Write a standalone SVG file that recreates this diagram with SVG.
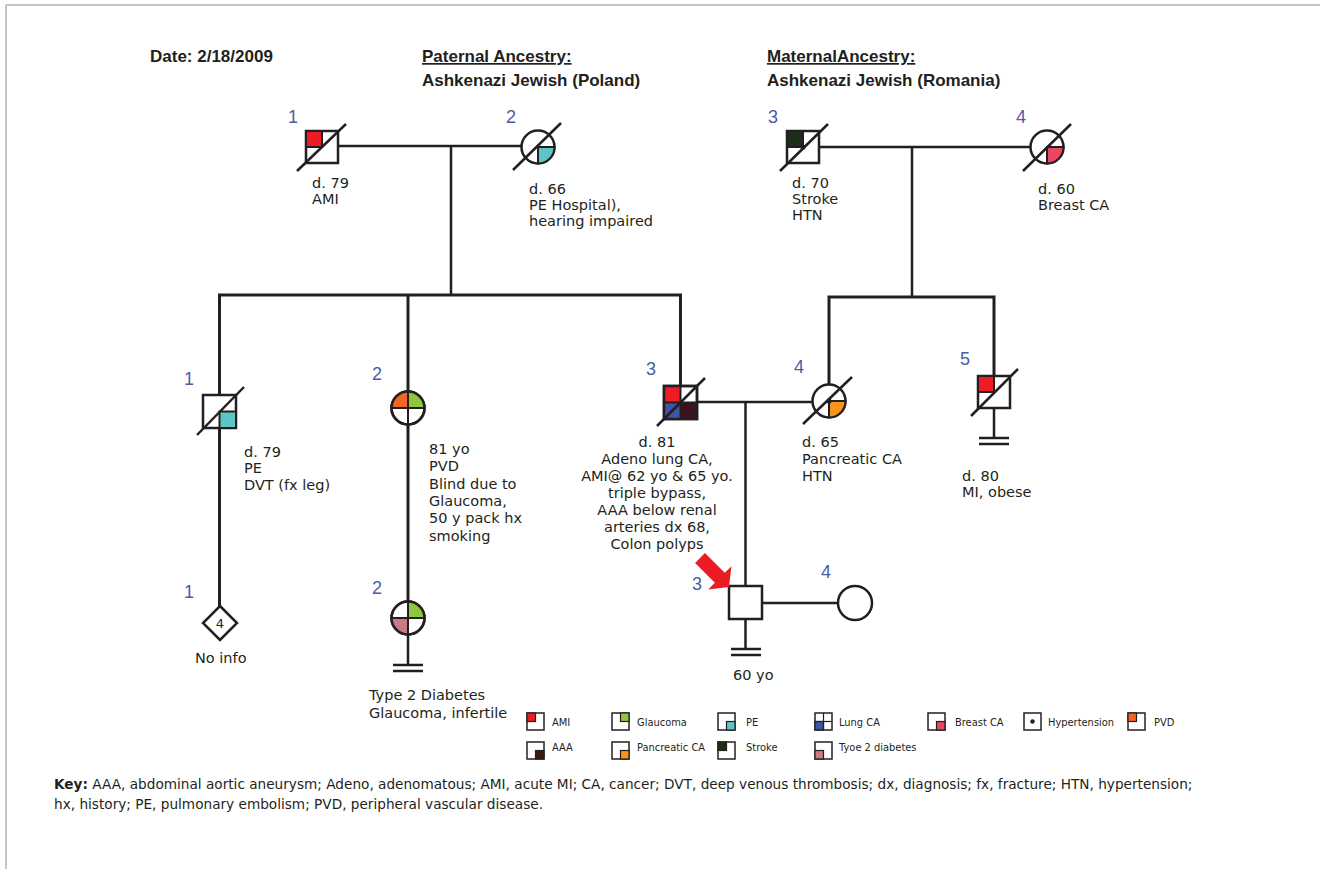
<svg xmlns="http://www.w3.org/2000/svg" width="1320" height="869" viewBox="0 0 1320 869">
<style>
text{font-family:"DejaVu Sans","Liberation Sans",sans-serif;fill:#231f20}
.t{font-size:14.5px}
.h{font-family:"Liberation Sans","DejaVu Sans",sans-serif;font-size:17px;font-weight:bold}
.lb{font-family:"Liberation Sans",sans-serif;font-size:18px;fill:#4d5aa6;text-anchor:middle}
.lg{font-size:9.9px}
.k{font-size:13.65px}
.ln{stroke:#231f20;stroke-width:2.5;fill:none}
.sib{stroke:#231f20;stroke-width:3;fill:none}
.sym{stroke:#231f20;stroke-width:2.5;fill:#fff}
.q{stroke:#231f20;stroke-width:2}
.sl{stroke:#231f20;stroke-width:2.5}
.li{stroke:#231f20;stroke-width:1.5;fill:#fff}
.lq{stroke:#231f20;stroke-width:1.2}
</style>
<rect x="0" y="0" width="1320" height="869" fill="#fff"/>
<g id="frame" stroke="#b3b3b3" stroke-width="1.5">
<line x1="6" y1="5" x2="1320" y2="5"/>
<line x1="6" y1="5" x2="6" y2="869"/>
</g>
<g id="header">
<text class="h" x="150" y="62">Date: 2/18/2009</text>
<text class="h" x="422" y="62" text-decoration="underline">Paternal Ancestry:</text>
<text class="h" x="422" y="86">Ashkenazi Jewish (Poland)</text>
<text class="h" x="767" y="62" text-decoration="underline">MaternalAncestry:</text>
<text class="h" x="767" y="86">Ashkenazi Jewish (Romania)</text>
</g>
<g id="connectors">
<line class="ln" x1="338" y1="146" x2="521.5" y2="146"/>
<line class="ln" x1="451" y1="146" x2="451" y2="295"/>
<line class="ln" x1="819" y1="147" x2="1030.5" y2="147"/>
<line class="ln" x1="912" y1="147" x2="912" y2="297"/>
<polyline class="sib" points="219.5,395 219.5,295 680.5,295 680.5,386"/>
<line class="sib" x1="408" y1="295" x2="408" y2="391.5"/>
<polyline class="sib" points="829,384.5 829,297 994,297 994,376"/>
<line class="sib" x1="219.5" y1="428" x2="219.5" y2="606"/>
<line class="sib" x1="408" y1="424.5" x2="408" y2="601.5"/>
<line class="ln" x1="697" y1="402" x2="812.5" y2="402"/>
<line class="ln" x1="745.5" y1="402" x2="745.5" y2="586"/>
<line class="ln" x1="762" y1="603" x2="838" y2="603"/>
<line class="ln" x1="994" y1="408" x2="994" y2="438"/>
<line class="ln" x1="979" y1="438" x2="1009" y2="438"/>
<line class="ln" x1="979" y1="444" x2="1009" y2="444"/>
<line class="ln" x1="745.5" y1="619" x2="745.5" y2="649"/>
<line class="ln" x1="731" y1="649" x2="761" y2="649"/>
<line class="ln" x1="731" y1="655" x2="761" y2="655"/>
<line class="ln" x1="408" y1="634.5" x2="408" y2="665"/>
<line class="ln" x1="393" y1="665" x2="423" y2="665"/>
<line class="ln" x1="393" y1="671" x2="423" y2="671"/>
</g>
<g id="I-1">
<rect class="sym" x="306" y="131" width="32" height="32"/>
<rect class="q" x="306" y="131" width="16" height="16" fill="#ed1c24"/>
<line class="sl" x1="297" y1="171" x2="346" y2="124"/>
<text class="lb" x="293" y="123">1</text>
<text class="t" x="312" y="188">d. 79</text>
<text class="t" x="312" y="204">AMI</text>
</g>
<g id="I-2">
<circle class="sym" cx="538" cy="147" r="16.5"/>
<path class="q" d="M538,147 L554.5,147 A16.5,16.5 0 0 1 538,163.5 Z" fill="#5ec5c7"/>
<line class="sl" x1="513" y1="170" x2="561" y2="123"/>
<text class="lb" x="511" y="123">2</text>
<text class="t" x="529" y="194">d. 66</text>
<text class="t" x="529" y="210">PE Hospital),</text>
<text class="t" x="529" y="226">hearing impaired</text>
</g>
<g id="I-3">
<rect class="sym" x="787" y="131" width="32" height="32"/>
<rect class="q" x="787" y="131" width="16" height="16" fill="#1c2e17"/>
<circle cx="803" cy="147" r="2.6" fill="#231f20"/>
<line class="sl" x1="780" y1="171" x2="828" y2="124"/>
<text class="lb" x="773" y="123">3</text>
<text class="t" x="792" y="188">d. 70</text>
<text class="t" x="792" y="204">Stroke</text>
<text class="t" x="792" y="220">HTN</text>
</g>
<g id="I-4">
<circle class="sym" cx="1047" cy="147" r="16.5"/>
<path class="q" d="M1047,147 L1063.5,147 A16.5,16.5 0 0 1 1047,163.5 Z" fill="#ec4762"/>
<line class="sl" x1="1023" y1="171" x2="1071" y2="124"/>
<text class="lb" x="1021" y="123">4</text>
<text class="t" x="1038" y="194">d. 60</text>
<text class="t" x="1038" y="210">Breast CA</text>
</g>
<g id="II-1">
<rect class="sym" x="203" y="395" width="33" height="33"/>
<rect class="q" x="219.5" y="411.5" width="16.5" height="16.5" fill="#5ec5c7"/>
<line class="sl" x1="197" y1="435" x2="244" y2="387"/>
<text class="lb" x="189" y="385">1</text>
<text class="t" x="244" y="457">d. 79</text>
<text class="t" x="244" y="473">PE</text>
<text class="t" x="244" y="490">DVT (fx leg)</text>
</g>
<g id="II-2">
<circle class="sym" cx="408" cy="408" r="16.5"/>
<path d="M408,408 L391.5,408 A16.5,16.5 0 0 1 408,391.5 Z" fill="#f26522"/>
<path d="M408,408 L408,391.5 A16.5,16.5 0 0 1 424.5,408 Z" fill="#8dc63f"/>
<circle cx="408" cy="408" r="16.5" fill="none" stroke="#231f20" stroke-width="2.5"/>
<line class="q" x1="391.5" y1="408" x2="424.5" y2="408"/>
<line class="q" x1="408" y1="391.5" x2="408" y2="424.5"/>
<text class="lb" x="377" y="380">2</text>
<text class="t" x="429" y="454">81 yo</text>
<text class="t" x="429" y="471">PVD</text>
<text class="t" x="429" y="489">Blind due to</text>
<text class="t" x="429" y="506">Glaucoma,</text>
<text class="t" x="429" y="523">50 y pack hx</text>
<text class="t" x="429" y="541">smoking</text>
</g>
<g id="II-3">
<rect class="sym" x="664" y="386" width="33" height="33"/>
<rect x="664" y="386" width="16.5" height="16.5" fill="#ed1c24"/>
<rect x="664" y="402.5" width="16.5" height="16.5" fill="#3f54a3"/>
<rect x="680.5" y="402.5" width="16.5" height="16.5" fill="#3a1520"/>
<rect x="664" y="386" width="33" height="33" fill="none" stroke="#231f20" stroke-width="2.5"/>
<line class="q" x1="664" y1="402.5" x2="697" y2="402.5"/>
<line class="q" x1="680.5" y1="386" x2="680.5" y2="419"/>
<line class="sl" x1="657" y1="426" x2="705" y2="378"/>
<text class="lb" x="651" y="375">3</text>
<text class="t" x="657" y="447" text-anchor="middle">d. 81</text>
<text class="t" x="657" y="464" text-anchor="middle">Adeno lung CA,</text>
<text class="t" x="657" y="481" text-anchor="middle">AMI@ 62 yo &amp; 65 yo.</text>
<text class="t" x="657" y="498" text-anchor="middle">triple bypass,</text>
<text class="t" x="657" y="515" text-anchor="middle">AAA below renal</text>
<text class="t" x="657" y="532" text-anchor="middle">arteries dx 68,</text>
<text class="t" x="657" y="549" text-anchor="middle">Colon polyps</text>
</g>
<g id="II-4">
<circle class="sym" cx="829" cy="401" r="16.5"/>
<path class="q" d="M829,401 L845.5,401 A16.5,16.5 0 0 1 829,417.5 Z" fill="#f7941d"/>
<circle cx="829" cy="401" r="2.6" fill="#231f20"/>
<line class="sl" x1="803" y1="424" x2="852" y2="377"/>
<text class="lb" x="799" y="373">4</text>
<text class="t" x="802" y="447">d. 65</text>
<text class="t" x="802" y="464">Pancreatic CA</text>
<text class="t" x="802" y="481">HTN</text>
</g>
<g id="II-5">
<rect class="sym" x="978" y="376" width="32" height="32"/>
<rect class="q" x="978" y="376" width="16" height="16" fill="#ed1c24"/>
<line class="sl" x1="971" y1="416" x2="1018" y2="369"/>
<text class="lb" x="965" y="365">5</text>
<text class="t" x="962" y="481">d. 80</text>
<text class="t" x="962" y="497">MI, obese</text>
</g>
<g id="III-1">
<polygon class="sym" points="220,606 237,623 220,640 203,623"/>
<text x="220" y="628" font-size="13" text-anchor="middle">4</text>
<text class="lb" x="189" y="598">1</text>
<text class="t" x="195" y="663">No info</text>
</g>
<g id="III-2">
<circle class="sym" cx="408" cy="618" r="16.5"/>
<path d="M408,618 L408,601.5 A16.5,16.5 0 0 1 424.5,618 Z" fill="#8dc63f"/>
<path d="M408,618 L408,634.5 A16.5,16.5 0 0 1 391.5,618 Z" fill="#c97a82"/>
<circle cx="408" cy="618" r="16.5" fill="none" stroke="#231f20" stroke-width="2.5"/>
<line class="q" x1="391.5" y1="618" x2="424.5" y2="618"/>
<line class="q" x1="408" y1="601.5" x2="408" y2="634.5"/>
<text class="lb" x="377" y="594">2</text>
<text class="t" x="369" y="700">Type 2 Diabetes</text>
<text class="t" x="369" y="718">Glaucoma, infertile</text>
</g>
<g id="III-3">
<rect class="sym" x="729" y="586" width="33" height="33"/>
<polygon fill="#ed1c24" transform="translate(729,587) rotate(45)" points="0,0 -13,-16.5 -13,-7 -41,-7 -41,7 -13,7 -13,16.5"/>
<text class="lb" x="697" y="590">3</text>
<text class="t" x="733" y="680">60 yo</text>
</g>
<g id="III-4">
<circle class="sym" cx="855" cy="603" r="17"/>
<text class="lb" x="826" y="578">4</text>
</g>
<g id="legend">
<g><rect class="li" x="527" y="713" width="17" height="17"/><rect class="lq" x="527" y="713" width="8.5" height="8.5" fill="#ed1c24"/><text class="lg" x="552" y="726">AMI</text></g>
<g><rect class="li" x="612" y="713" width="17" height="17"/><rect class="lq" x="620.5" y="713" width="8.5" height="8.5" fill="#8dc63f"/><text class="lg" x="637" y="726">Glaucoma</text></g>
<g><rect class="li" x="718" y="713" width="17" height="17"/><rect class="lq" x="726.5" y="721.5" width="8.5" height="8.5" fill="#5ec5c7"/><text class="lg" x="746" y="726">PE</text></g>
<g><rect class="li" x="815" y="713" width="17" height="17"/><rect class="lq" x="815" y="721.5" width="8.5" height="8.5" fill="#3f54a3"/><line class="lq" x1="823.5" y1="713" x2="823.5" y2="730"/><line class="lq" x1="815" y1="721.5" x2="832" y2="721.5"/><text class="lg" x="839" y="726">Lung CA</text></g>
<g><rect class="li" x="928" y="713" width="17" height="17"/><rect class="lq" x="936.5" y="721.5" width="8.5" height="8.5" fill="#ec4762"/><text class="lg" x="955" y="726">Breast CA</text></g>
<g><rect class="li" x="1024" y="713" width="17" height="17"/><circle cx="1032.5" cy="721.5" r="2.2" fill="#231f20"/><text class="lg" x="1048" y="726">Hypertension</text></g>
<g><rect class="li" x="1128" y="713" width="17" height="17"/><rect class="lq" x="1128" y="713" width="8.5" height="8.5" fill="#f26522"/><text class="lg" x="1154" y="726">PVD</text></g>
<g><rect class="li" x="527" y="742" width="17" height="17"/><rect class="lq" x="535.5" y="750.5" width="8.5" height="8.5" fill="#3a1a12"/><text class="lg" x="552" y="751">AAA</text></g>
<g><rect class="li" x="612" y="742" width="17" height="17"/><rect class="lq" x="620.5" y="750.5" width="8.5" height="8.5" fill="#f7941d"/><text class="lg" x="637" y="751">Pancreatic CA</text></g>
<g><rect class="li" x="718" y="742" width="17" height="17"/><rect class="lq" x="718" y="742" width="8.5" height="8.5" fill="#1c2e17"/><text class="lg" x="746" y="751">Stroke</text></g>
<g><rect class="li" x="815" y="742" width="17" height="17"/><rect class="lq" x="815" y="750.5" width="8.5" height="8.5" fill="#c97a82"/><text class="lg" x="839" y="751">Tyoe 2 diabetes</text></g>
</g>
<g id="key">
<text class="k" x="54" y="789"><tspan font-weight="bold">Key:</tspan> AAA, abdominal aortic aneurysm; Adeno, adenomatous; AMI, acute MI; CA, cancer; DVT, deep venous thrombosis; dx, diagnosis; fx, fracture; HTN, hypertension;</text>
<text class="k" x="54" y="809">hx, history; PE, pulmonary embolism; PVD, peripheral vascular disease.</text>
</g>
</svg>
